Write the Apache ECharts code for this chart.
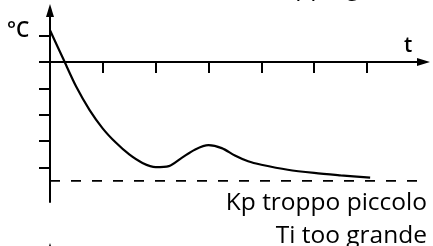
<!DOCTYPE html>
<html><head><meta charset="utf-8">
<script src="https://cdn.jsdelivr.net/npm/echarts@6/dist/echarts.min.js"></script>
<style>html,body{margin:0;padding:0;background:#fff}#c{width:433px;height:246px}</style>
</head><body><div id="c"></div>
<script>
// ---- data ----
const timeValues = [0, 0.25, 0.5, 0.75, 1.0, 1.25, 1.5, 1.75, 2.0, 2.25, 2.5, 2.75, 3.0, 3.25, 3.5, 3.75, 4.0, 4.5, 5.0, 5.5, 6.06];
const tempValues = [1.2, 0.12, -0.95, -1.82, -2.52, -3.06, -3.50, -3.82, -3.98, -3.94, -3.62, -3.31, -3.15, -3.26, -3.54, -3.76, -3.89, -4.08, -4.20, -4.29, -4.38];
const setpointTimes = [0, 7.2];
const setpointValue = -4.5;
const yTickValues = [1, 0, -1, -2, -3, -4];
const xTickValues = [1, 2, 3, 4, 5, 6];
const yAxisTitle = '°C';
const xAxisTitle = 't';
const captionLines = ['Kp troppo piccolo', 'Ti too grande'];
const previousCaption = 'Ti troppo grande';

const curve = timeValues.map((t, i) => [t, tempValues[i]]);
const setpoint = setpointTimes.map(t => [t, setpointValue]);

const chart = echarts.init(document.getElementById('c'), null, {renderer: 'canvas'});
const black = '#000';
const font = '"Open Sans", "Noto Sans", sans-serif';

chart.setOption({
  animation: false,
  backgroundColor: '#fff',
  grid: {left: 50, right: 9.5, top: 10.5, bottom: 44},
  xAxis: {
    type: 'value', min: 0, max: 7.07,
    axisLine: {onZero: true, symbol: ['none', 'triangle'], symbolSize: [8, 13], lineStyle: {color: black, width: 2}},
    axisTick: {show: true, customValues: xTickValues, length: 11, lineStyle: {color: black, width: 2}},
    axisLabel: {show: false},
    splitLine: {show: false}
  },
  yAxis: {
    type: 'value', min: -5.3, max: 1.95,
    axisLine: {onZero: true, symbol: ['none', 'triangle'], symbolSize: [8, 13], lineStyle: {color: black, width: 2}},
    axisTick: {show: true, customValues: yTickValues, length: 11, lineStyle: {color: black, width: 2}},
    axisLabel: {show: false},
    splitLine: {show: false}
  },
  series: [
    {
      type: 'line', data: curve, smooth: 0.3, symbol: 'none',
      lineStyle: {color: black, width: 2.2}
    },
    {
      type: 'line', data: setpoint, symbol: 'none', clip: false,
      lineStyle: {color: black, width: 1.6, type: [10, 11]}
    }
  ],
  graphic: [
    {type: 'text', x: 7, y: 31, style: {text: yAxisTitle, font: '600 21px ' + font, fill: black, textAlign: 'left', textVerticalAlign: 'middle'}},
    {type: 'text', x: 404, y: 46, style: {text: xAxisTitle, font: '600 21px ' + font, fill: black, textAlign: 'left', textVerticalAlign: 'middle'}},
    {type: 'text', x: 427, y: 203, style: {text: captionLines[0], font: '500 24.5px ' + font, fill: black, textAlign: 'right', textVerticalAlign: 'middle'}},
    {type: 'text', x: 427, y: 236.5, style: {text: captionLines[1], font: '500 24.5px ' + font, fill: black, textAlign: 'right', textVerticalAlign: 'middle'}},
    {type: 'text', x: 427, y: -12, style: {text: previousCaption, font: '500 24.5px ' + font, fill: black, textAlign: 'right', textVerticalAlign: 'middle'}},
    {type: 'polygon', shape: {points: [[50, 243], [46, 256], [54, 256]]}, style: {fill: black}}
  ]
});
</script></body></html>
